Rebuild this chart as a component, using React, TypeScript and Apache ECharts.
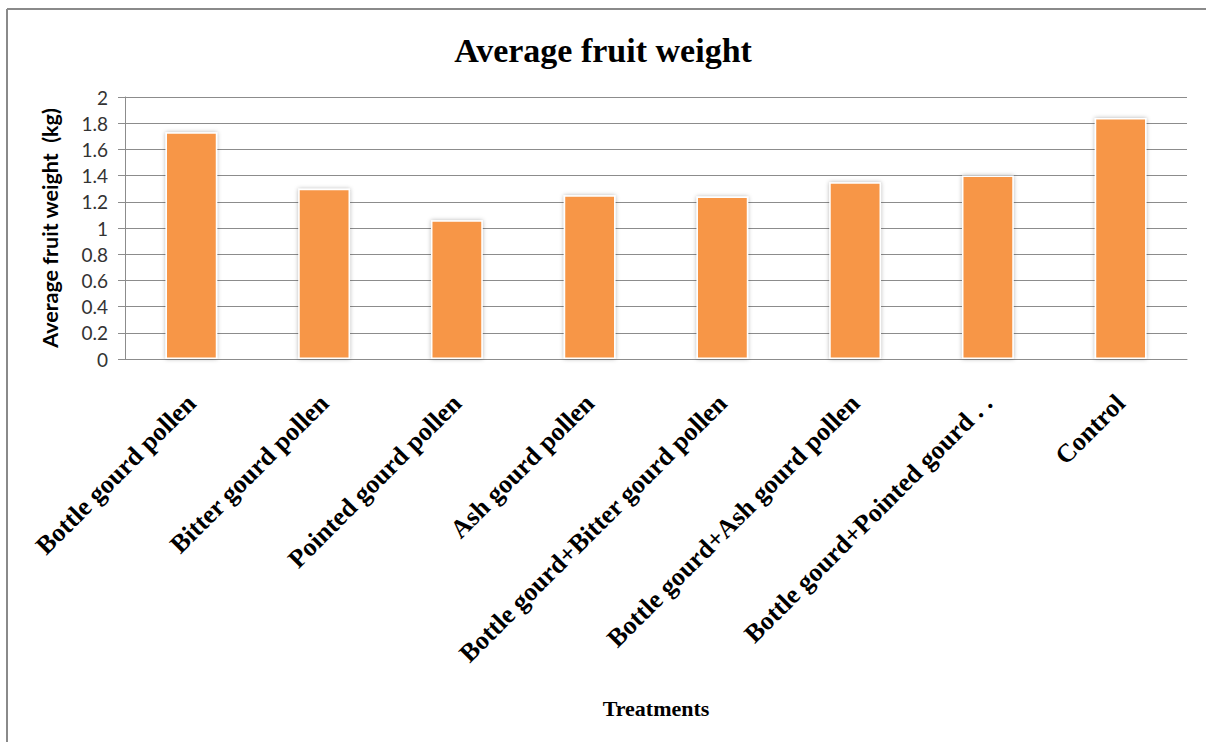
import React, { useEffect, useRef } from "react";
import * as echarts from "echarts";

const categories = [
  "Bottle gourd pollen",
  "Bitter gourd pollen",
  "Pointed gourd pollen",
  "Ash gourd pollen",
  "Bottle gourd+Bitter gourd pollen",
  "Bottle gourd+Ash gourd pollen",
  "Bottle gourd+Pointed gourd . .",
  "Control",
];
const weights = [1.73, 1.3, 1.06, 1.25, 1.24, 1.35, 1.4, 1.84];
const yTicks = [0, 0.2, 0.4, 0.6, 0.8, 1, 1.2, 1.4, 1.6, 1.8, 2];

export default function App() {
  const ref = useRef<HTMLDivElement>(null);
  useEffect(() => {
    const chart = echarts.init(ref.current!, null, { renderer: "svg" });
    chart.setOption({
      animation: false,
      backgroundColor: "#ffffff",
      title: {
        text: "Average fruit weight",
        left: "center",
        top: 28,
        textStyle: {
          fontFamily: "Liberation Serif",
          fontWeight: "bold",
          fontSize: 34,
          color: "#000",
        },
      },
      graphic: [
        { type: "line", shape: { x1: 7, y1: 9, x2: 1206, y2: 9 }, style: { stroke: "#8a8a8a", lineWidth: 2 } },
        { type: "line", shape: { x1: 7, y1: 9, x2: 7, y2: 742 }, style: { stroke: "#8a8a8a", lineWidth: 2 } },
      ],
      grid: { left: 125, right: 19, top: 97, bottom: 383, containLabel: false },
      xAxis: {
        type: "category",
        data: categories,
        name: "Treatments",
        nameLocation: "middle",
        nameGap: 338,
        nameTextStyle: {
          fontFamily: "Liberation Serif",
          fontWeight: "bold",
          fontSize: 22,
          color: "#000",
        },
        axisLine: { show: true, lineStyle: { color: "#8c8c8c", width: 1 } },
        axisTick: { show: false },
        axisLabel: {
          rotate: 45,
          margin: 40,
          interval: 0,
          fontFamily: "Liberation Serif",
          fontWeight: "bold",
          fontSize: 26,
          color: "#000",
        },
      },
      yAxis: {
        type: "value",
        min: 0,
        max: 2,
        interval: 0.2,
        name: "Average fruit weight  (kg)",
        nameLocation: "middle",
        nameGap: 64,
        nameRotate: 90,
        nameTextStyle: {
          fontFamily: "Lato",
          fontWeight: "bold",
          fontSize: 21.5,
          color: "#000",
        },
        axisLine: { show: true, lineStyle: { color: "#8c8c8c", width: 1 } },
        axisTick: { show: true, length: 7, lineStyle: { color: "#8c8c8c" } },
        splitLine: { show: true, lineStyle: { color: "#8c8c8c", width: 1 } },
        axisLabel: {
          margin: 17,
          fontFamily: "Lato",
          fontSize: 19,
          color: "#333",
          formatter: (v: number) => {
            const t = yTicks.find((x) => Math.abs(x - v) < 1e-9);
            return String(t ?? v);
          },
        },
      },
      series: [
        {
          type: "bar",
          data: weights,
          barWidth: "39%",
          itemStyle: {
            color: "#F79646",
            borderColor: "#ffffff",
            borderWidth: 1.5,
            shadowBlur: 4,
            shadowColor: "rgba(0,0,0,0.3)",
          },
        },
      ],
    });
    return () => chart.dispose();
  }, []);
  return (
    <div
      ref={ref}
      style={{ position: "fixed", left: 0, top: 0, width: 1206, height: 742 }}
    />
  );
}
